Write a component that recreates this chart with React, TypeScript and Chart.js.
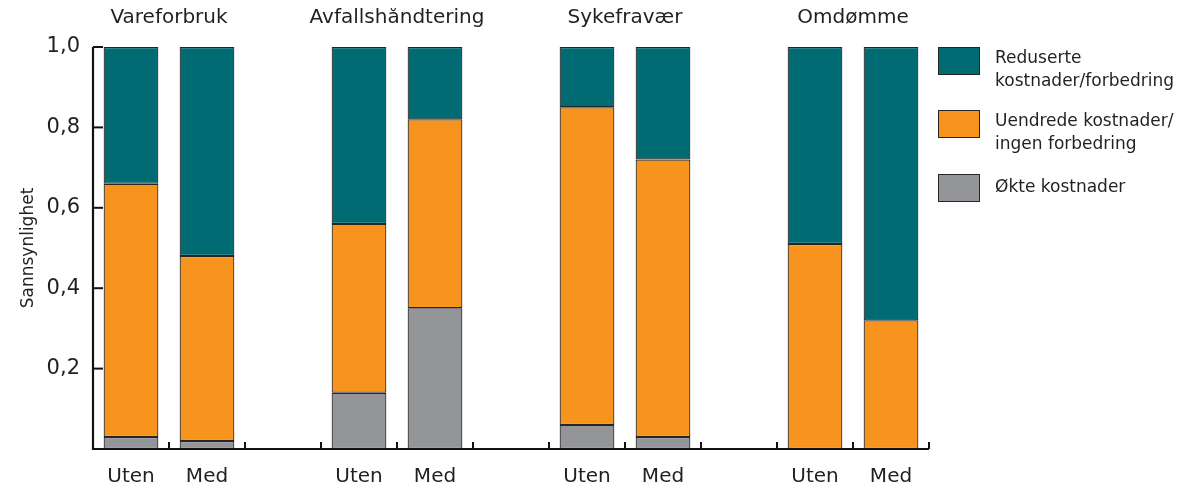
import React, { useEffect, useRef } from "react";
import { Chart, registerables } from "chart.js";

Chart.register(...registerables);

const groups = ["Vareforbruk", "Avfallshåndtering", "Sykefravær", "Omdømme"];
const categories = ["Uten", "Med", "", "Uten", "Med", "", "Uten", "Med", "", "Uten", "Med"];
const okteKostnader = [0.03, 0.02, null, 0.14, 0.35, null, 0.06, 0.03, null, null, null];
const uendredeKostnader = [0.63, 0.46, null, 0.42, 0.47, null, 0.79, 0.69, null, 0.51, 0.32];
const redusertKostnader = [0.34, 0.52, null, 0.44, 0.18, null, 0.15, 0.28, null, 0.49, 0.68];
const yTicks = [0.2, 0.4, 0.6, 0.8, 1.0];
const legendLines = [
  ["Reduserte", "kostnader/forbedring"],
  ["Uendrede kostnader/", "ingen forbedring"],
  ["Økte kostnader"],
];

const TEAL = "#006b73";
const ORANGE = "#f7941e";
const GRAY = "#939598";
const BORDER = "#2b2522";
const TEXT = "#231f20";
const FONT = "'DejaVu Sans', sans-serif";

const decorPlugin = {
  id: "decor",
  afterDraw(chart: any) {
    const { ctx, chartArea, scales } = chart;
    const x = scales.x;
    const y = scales.y;
    ctx.save();
    ctx.strokeStyle = "#111";
    ctx.lineCap = "butt";
    // axes
    ctx.lineWidth = 2.2;
    ctx.beginPath();
    ctx.moveTo(chartArea.left, chartArea.top);
    ctx.lineTo(chartArea.left, chartArea.bottom);
    ctx.lineTo(chartArea.right, chartArea.bottom);
    ctx.stroke();
    // y ticks inward
    ctx.lineWidth = 2;
    yTicks.forEach((v) => {
      const py = y.getPixelForValue(v);
      ctx.beginPath();
      ctx.moveTo(chartArea.left, py);
      ctx.lineTo(chartArea.left + 10, py);
      ctx.stroke();
    });
    // x ticks at slot boundaries
    const n = categories.length;
    for (let i = 0; i < n; i++) {
      const px =
        i < n - 1
          ? (x.getPixelForValue(i) + x.getPixelForValue(i + 1)) / 2
          : chartArea.right;
      ctx.beginPath();
      ctx.moveTo(px, chartArea.bottom);
      ctx.lineTo(px, chartArea.bottom - 7);
      ctx.stroke();
    }
    // group titles
    ctx.fillStyle = TEXT;
    ctx.font = `20px ${FONT}`;
    ctx.textAlign = "center";
    ctx.textBaseline = "middle";
    groups.forEach((g, gi) => {
      const cx = (x.getPixelForValue(gi * 3) + x.getPixelForValue(gi * 3 + 1)) / 2;
      ctx.fillText(g, cx, chartArea.top - 29);
    });
    // legend
    const colors = chart.data.datasets.map((d: any) => d.backgroundColor);
    const order = [2, 1, 0];
    const bx = chartArea.right + 9;
    const boxTops = [chartArea.top, chartArea.top + 63, chartArea.top + 127];
    ctx.textAlign = "left";
    ctx.font = `17px ${FONT}`;
    order.forEach((di, k) => {
      const top = boxTops[k];
      ctx.fillStyle = colors[di];
      ctx.fillRect(bx, top, 42, 28);
      ctx.lineWidth = 1;
      ctx.strokeStyle = BORDER;
      ctx.strokeRect(bx + 0.5, top + 0.5, 41, 27);
      ctx.fillStyle = TEXT;
      const lines = legendLines[k];
      const lh = 23;
      const startY = top + 14 - ((lines.length - 1) * lh) / 2 + (lines.length > 1 ? 9 : 0);
      lines.forEach((ln, li) => {
        ctx.fillText(ln, bx + 57, startY + li * lh);
      });
    });
    ctx.restore();
  },
};

export default function App() {
  const ref = useRef<HTMLCanvasElement>(null);
  useEffect(() => {
    if (!ref.current) return;
    const barStyle = { borderColor: BORDER, borderWidth: 1.2, borderSkipped: false as const };
    const chart = new Chart(ref.current, {
      type: "bar",
      data: {
        labels: categories,
        datasets: [
          { label: "Økte kostnader", data: okteKostnader, backgroundColor: GRAY, ...barStyle },
          {
            label: "Uendrede kostnader/ingen forbedring",
            data: uendredeKostnader,
            backgroundColor: ORANGE,
            ...barStyle,
          },
          {
            label: "Reduserte kostnader/forbedring",
            data: redusertKostnader,
            backgroundColor: TEAL,
            ...barStyle,
          },
        ],
      },
      options: {
        responsive: false,
        animation: false,
        layout: { padding: { top: 39, right: 256, left: 0, bottom: 0 } },
        datasets: { bar: { barPercentage: 0.72, categoryPercentage: 1 } },
        plugins: { legend: { display: false }, tooltip: { enabled: false } },
        scales: {
          x: {
            stacked: true,
            offset: true,
            grid: { display: false, drawTicks: false },
            border: { display: false },
            ticks: {
              color: TEXT,
              font: { family: FONT, size: 20 },
              padding: 16,
              autoSkip: false,
              maxRotation: 0,
            },
            afterFit: (s: any) => {
              s.height = 33;
            },
          },
          y: {
            stacked: true,
            min: 0,
            max: 1,
            grid: { display: false, drawTicks: false },
            border: { display: false },
            ticks: {
              stepSize: 0.2,
              color: TEXT,
              padding: 13,
              font: { family: FONT, size: 21 },
              callback: (v: any) => (Number(v) === 0 ? "" : Number(v).toFixed(1).replace(".", ",")),
            },
            title: {
              display: true,
              text: "Sannsynlighet",
              color: TEXT,
              font: { family: FONT, size: 17 },
              padding: { top: 10, bottom: 0 },
            },
            afterFit: (s: any) => {
              s.width = 85;
            },
          },
        },
      },
      plugins: [decorPlugin],
    });
    return () => chart.destroy();
  }, []);
  return (
    <div style={{ width: 1177, height: 474 }}>
      <canvas ref={ref} width={1177} height={474} style={{ display: "block" }} />
    </div>
  );
}
